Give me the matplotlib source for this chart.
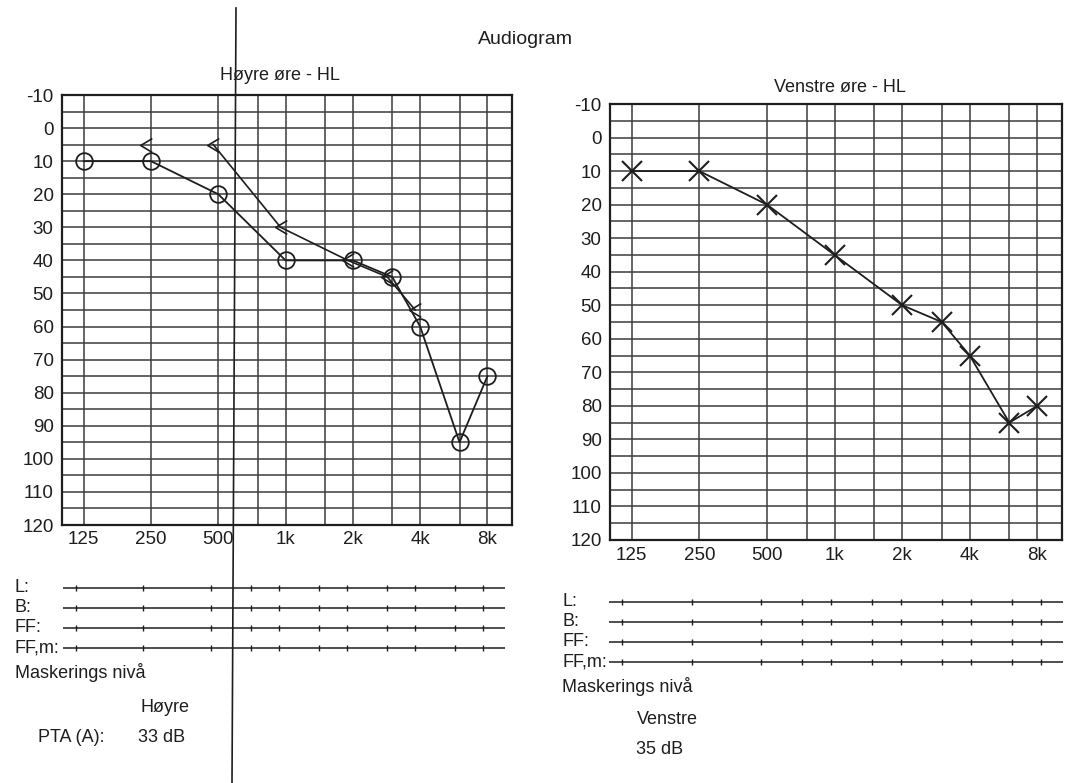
import matplotlib
matplotlib.use("Agg")
import matplotlib.pyplot as plt
from matplotlib.path import Path
from matplotlib.lines import Line2D

plt.rcParams["font.family"] = ["Liberation Sans", "DejaVu Sans"]
plt.rcParams["axes.unicode_minus"] = False

# frekvenser og hørselsterskler (dB HL)
FREQS = [125, 250, 500, 1000, 2000, 3000, 4000, 6000, 8000]
RIGHT_AIR = [10, 10, 20, 40, 40, 45, 60, 95, 75]
RIGHT_BONE_FREQS = [250, 500, 1000, 2000, 3000, 4000]
RIGHT_BONE = [5, 5, 30, 40, 45, 55]
LEFT_AIR = [10, 10, 20, 35, 50, 55, 65, 85, 80]

GRID_FREQS = [125, 250, 500, 750, 1000, 1500, 2000, 3000, 4000, 6000, 8000]
XTICKS = [125, 250, 500, 1000, 2000, 4000, 8000]
XTICK_LABELS = ["125", "250", "500", "1k", "2k", "4k", "8k"]
YTICKS = list(range(-10, 121, 10))
ROW_LABELS = ["L:", "B:", "FF:", "FF,m:"]
PTA_RIGHT = "33 dB"
PTA_LEFT = "35 dB"

INK = "#1e1e1e"
GRID = "#3c3c3c"
W, H = 1070, 783

fig = plt.figure(figsize=(W / 100, H / 100), dpi=100)
fig.patch.set_facecolor("white")


def px(x0, y0, x1, y1):
    # piksel-boks -> figur-koordinater
    return [x0 / W, 1 - y1 / H, (x1 - x0) / W, (y1 - y0) / H]


def setup_panel(ax, xpad):
    ax.set_xscale("log")
    ax.set_xlim(100, 10300)
    ax.set_ylim(120, -10)
    for f in GRID_FREQS:
        ax.axvline(f, color=GRID, lw=1.1, zorder=1)
    for db in range(-5, 120, 5):
        ax.axhline(db, color=GRID, lw=1.1, zorder=1)
    ax.set_xticks(XTICKS)
    ax.set_xticklabels(XTICK_LABELS)
    ax.xaxis.set_minor_locator(plt.NullLocator())
    ax.set_yticks(YTICKS)
    ax.tick_params(length=0, labelsize=13.5, colors=INK)
    ax.tick_params(axis="y", pad=6)
    ax.tick_params(axis="x", pad=xpad)
    for s in ax.spines.values():
        s.set_linewidth(1.6)
        s.set_color(INK)


bone_marker = Path([(0.5, 0.6), (-0.5, 0.0), (0.5, -0.6)],
                   [Path.MOVETO, Path.LINETO, Path.LINETO])

# høyre øre
axr = fig.add_axes(px(62, 95, 512, 525))
setup_panel(axr, 4)
axr.plot(FREQS, RIGHT_AIR, "-", color=INK, lw=1.3, zorder=3)
axr.plot(FREQS, RIGHT_AIR, "o", ms=12, mfc="none", mec=INK, mew=1.3, zorder=4)
bone_x = [f * 0.95 for f in RIGHT_BONE_FREQS]
axr.plot(bone_x[1:], RIGHT_BONE[1:], "-", color=INK, lw=1.2, zorder=3)
axr.plot(bone_x, RIGHT_BONE, ls="none", marker=bone_marker, ms=10,
         mfc="none", mec=INK, mew=1.2, zorder=4)
fig.text(280 / W, 1 - 75 / H, "Høyre øre - HL", ha="center", va="center",
         fontsize=13, color=INK)

# venstre øre
axl = fig.add_axes(px(610, 104, 1062, 540))
setup_panel(axl, 5)
axl.plot(FREQS, LEFT_AIR, "-", color=INK, lw=1.3, zorder=3)
axl.plot(FREQS, LEFT_AIR, "x", ms=15, mec=INK, mew=1.5, zorder=4)
fig.text(840 / W, 1 - 88 / H, "Venstre øre - HL", ha="center", va="center",
         fontsize=13, color=INK)

fig.text(525 / W, 1 - 40 / H, "Audiogram", ha="center", va="center",
         fontsize=14, color=INK)


def rows(box, lab_x, first_y):
    ax = fig.add_axes(px(*box))
    ax.set_xscale("log")
    ax.set_xlim(110, 10000)
    ax.set_ylim(3.5, -0.5)
    ax.axis("off")
    for i, lab in enumerate(ROW_LABELS):
        ax.plot([110, 10000], [i, i], color=INK, lw=1.1)
        ax.plot(GRID_FREQS, [i] * len(GRID_FREQS), "|", ms=5, mec=INK, mew=1)
        fig.text(lab_x / W, 1 - (first_y + 20 * i) / H, lab, ha="left",
                 va="center", fontsize=13, color=INK)
    fig.text(lab_x / W, 1 - (first_y + 85) / H, "Maskerings nivå", ha="left",
             va="center", fontsize=13, color=INK)


rows((63, 578, 505, 658), 15, 588)
rows((609, 592, 1063, 672), 562, 602)

fig.text(140 / W, 1 - 707 / H, "Høyre", ha="left", va="center", fontsize=13, color=INK)
fig.text(38 / W, 1 - 737 / H, "PTA (A):", ha="left", va="center", fontsize=13, color=INK)
fig.text(138 / W, 1 - 737 / H, PTA_RIGHT, ha="left", va="center", fontsize=13, color=INK)
fig.text(637 / W, 1 - 720 / H, "Venstre", ha="left", va="center", fontsize=13, color=INK)
fig.text(636 / W, 1 - 750 / H, PTA_LEFT, ha="left", va="center", fontsize=13, color=INK)

# brettelinje i skannet ark
fig.add_artist(Line2D([236 / W, 232 / W], [1 - 8 / H, 0], color=INK, lw=1.2))

fig.savefig("out.png", dpi=100)
